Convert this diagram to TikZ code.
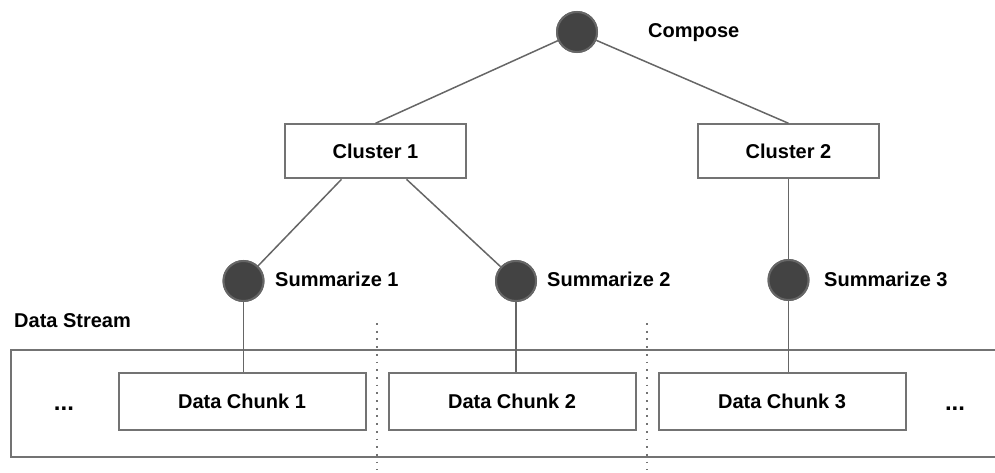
\documentclass[tikz,border=0pt]{standalone}
\usepackage{fontspec}
\setmainfont{Liberation Sans}
\usetikzlibrary{calc}
\definecolor{linegray}{HTML}{666666}
\definecolor{boxgray}{HTML}{737373}
\definecolor{dotfill}{HTML}{434343}
\tikzset{
  conn/.style={draw=linegray, line width=1.5pt},
  boxnode/.style={draw=boxgray, line width=2pt, fill=white, inner sep=0pt, font=\fontsize{20}{24}\selectfont\bfseries},
  opnode/.style={circle, fill=dotfill, draw=linegray, line width=2pt, minimum size=40pt, inner sep=0pt},
  lbl/.style={font=\fontsize{20}{24}\selectfont\bfseries, inner sep=0pt, anchor=base west},
  ell/.style={font=\fontsize{24}{28}\selectfont\bfseries, inner sep=0pt, anchor=base},
  sep/.style={draw=boxgray, line width=2pt, dash pattern=on 1.8pt off 5.9pt}
}
\begin{document}
\begin{tikzpicture}[x=1pt, y=-1pt]
\useasboundingbox (0,0) rectangle (995,473);

% data stream frame (open on the right)
\draw[draw=boxgray, line width=2pt] (995,350) -- (10.5,350) -- (10.5,457) -- (995,457);

% separators
\coordinate (d1t) at (377.3,323);
\coordinate (d1b) at (377.3,470);
\coordinate (d2t) at (646.7,323);
\coordinate (d2b) at (646.7,470);
\draw[sep] (d1t) -- (d1b);
\draw[sep] (d2t) -- (d2b);

% nodes
\node[opnode] (comp) at (577,32) {};
\node[lbl] (compl) at (648,38) {Compose};

\node[boxnode, minimum width=181pt, minimum height=54pt] (c1) at (375.5,151.3) {Cluster 1};
\node[boxnode, minimum width=181pt, minimum height=54pt] (c2) at (788.5,151.3) {Cluster 2};

\node[opnode] (s1) at (243.5,281) {};
\node[lbl] (s1l) at (275,286.5) {Summarize 1};
\node[opnode] (s2) at (516,281) {};
\node[lbl] (s2l) at (547,286.5) {Summarize 2};
\node[opnode] (s3) at (788.5,280) {};
\node[lbl] (s3l) at (824,286) {Summarize 3};

\node[lbl] (ds) at (14,327.5) {Data Stream};

\node[boxnode, minimum width=247pt, minimum height=57pt] (k1) at (242,401.7) {Data Chunk 1};
\node[boxnode, minimum width=247pt, minimum height=57pt] (k2) at (512,401.7) {Data Chunk 2};
\node[boxnode, minimum width=247pt, minimum height=57pt] (k3) at (782,401.7) {Data Chunk 3};

\node[ell] (el) at (64,410) {...};
\node[ell] (er) at (955,410) {...};

% connectors
\draw[conn] (comp) -- (c1.north);
\draw[conn] (comp) -- (c2.north);
\draw[conn] ($(c1.south)+(-34,0)$) -- (s1);
\draw[conn] ($(c1.south)+(31,0)$) -- (s2);
\draw[conn] (c2.south) -- (s3);
\draw[conn] (s1) -- (s1 |- k1.north);
\draw[conn] (s2) -- (s2 |- k2.north);
\draw[conn] (s3) -- (s3 |- k3.north);

% redraw circles on top
\node[opnode] at (comp) {};
\node[opnode] at (s1) {};
\node[opnode] at (s2) {};
\node[opnode] at (s3) {};
\end{tikzpicture}
\end{document}
